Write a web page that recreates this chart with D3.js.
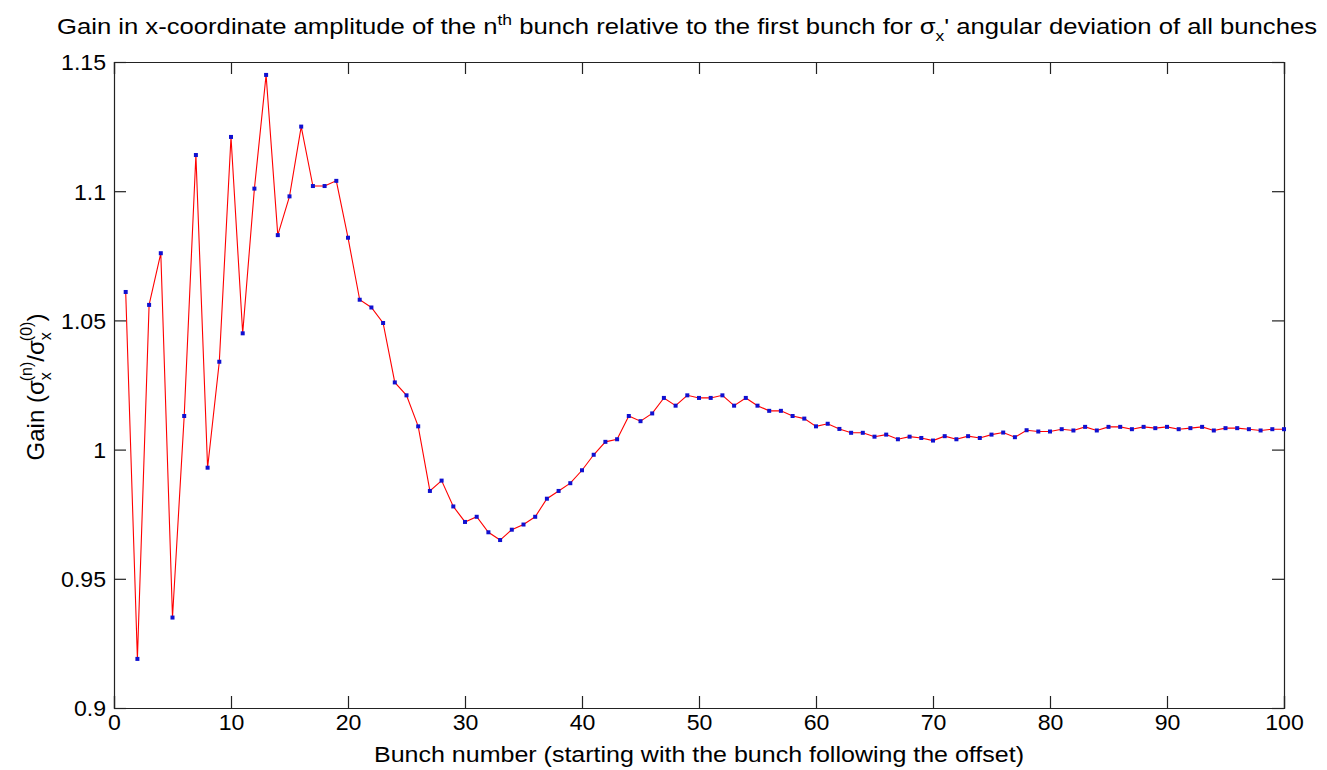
<!DOCTYPE html>
<html><head><meta charset="utf-8">
<script src="https://cdn.jsdelivr.net/npm/d3@7"></script>
<style>body{margin:0;background:#fff}svg{display:block}text{font-family:Arial,"Liberation Sans",sans-serif;fill:#000}</style>
</head><body><svg id="c" width="1327" height="770"></svg>
<script>
const gain = [1.061,0.919,1.056,1.076,0.935,1.013,1.114,0.993,1.034,1.121,
1.045,1.101,1.145,1.083,1.098,1.125,1.102,1.102,1.104,1.082,
1.058,1.055,1.049,1.026,1.021,1.009,0.984,0.988,0.978,0.972,
0.974,0.968,0.965,0.969,0.971,0.974,0.981,0.984,0.987,0.992,
0.998,1.003,1.004,1.013,1.011,1.014,1.020,1.017,1.021,1.020,
1.020,1.021,1.017,1.020,1.017,1.015,1.015,1.013,1.012,1.009,
1.010,1.008,1.0065,1.0065,1.005,1.0058,1.004,1.005,1.0045,1.0035,
1.0052,1.004,1.0052,1.0045,1.0058,1.0066,1.0048,1.0075,1.007,1.007,
1.0079,1.0074,1.0088,1.0074,1.0088,1.0088,1.0079,1.0088,1.0083,1.0088,
1.0079,1.0083,1.0088,1.0074,1.0083,1.0083,1.0079,1.0074,1.0079,1.0079];
const xTicks = [0,10,20,30,40,50,60,70,80,90,100];
const yTicks = [0.9,0.95,1,1.05,1.1,1.15];
const yTickLabels = ["0.9","0.95","1","1.05","1.1","1.15"];

const L=114,R=1284,T=62,B=708;
const svg=d3.select("#c");
const x=d3.scaleLinear().domain([0,100]).range([L,R]);
const y=d3.scaleLinear().domain([0.9,1.15]).range([B,T]);
const tl=12, fs=22;

function stretch(sel,k){sel.each(function(){const w=this.getComputedTextLength();this.setAttribute("textLength",w*k);this.setAttribute("lengthAdjust","spacingAndGlyphs");});}

// axes
const gB=svg.append("g").attr("transform",`translate(0,${B})`).call(d3.axisBottom(x).tickValues(xTicks).tickSize(-tl));
const gT=svg.append("g").attr("transform",`translate(0,${T})`).call(d3.axisTop(x).tickValues(xTicks).tickSize(-tl).tickFormat(""));
const gL=svg.append("g").attr("transform",`translate(${L},0)`).call(d3.axisLeft(y).tickValues(yTicks).tickSize(-tl).tickFormat((d,i)=>yTickLabels[i]));
const gR=svg.append("g").attr("transform",`translate(${R},0)`).call(d3.axisRight(y).tickValues(yTicks).tickSize(-tl).tickFormat(""));
[gB,gT,gL,gR].forEach(g=>{g.select(".domain").attr("stroke","#222").attr("stroke-width",1.2);g.selectAll(".tick line").attr("stroke","#222").attr("stroke-width",1.2);g.selectAll("text").attr("font-size",fs).attr("font-family","Arial, 'Liberation Sans', sans-serif").attr("fill","#000");});
gB.selectAll(".tick text").attr("y",0).attr("dy",0).attr("transform","translate(0,16)").attr("dominant-baseline","middle");
gL.selectAll(".tick text").attr("x",-8).attr("dy","0.36em");
stretch(gB.selectAll(".tick text"),1.05);
stretch(gL.selectAll(".tick text"),1.05);

// line and markers
const pts=gain.map((v,i)=>[i+1,v]);
svg.append("path").datum(pts).attr("fill","none").attr("stroke","#ff0000").attr("stroke-width",1.1)
 .attr("d",d3.line().x(d=>x(d[0])).y(d=>y(d[1])));
svg.append("g").selectAll("rect").data(pts).join("rect")
 .attr("x",d=>x(d[0])-2).attr("y",d=>y(d[1])-2).attr("width",4).attr("height",4).attr("fill","#1010d0");

// title
const title=svg.append("text").attr("x",57).attr("y",34).attr("font-size",fs);
title.append("tspan").text("Gain in x-coordinate amplitude of the n");
title.append("tspan").attr("dy",-9).attr("font-size",15).text("th");
title.append("tspan").attr("dy",9).text(" bunch relative to the first bunch for σ");
title.append("tspan").attr("dy",7).attr("font-size",15).text("x");
title.append("tspan").attr("dy",-7).text("' angular deviation of all bunches");
title.attr("textLength",1260).attr("lengthAdjust","spacingAndGlyphs");

// x label
svg.append("text").attr("x",(L+R)/2).attr("y",762).attr("text-anchor","middle").attr("font-size",fs)
 .attr("textLength",650).attr("lengthAdjust","spacingAndGlyphs")
 .text("Bunch number (starting with the bunch following the offset)");

// y label
const yl=svg.append("text").attr("transform","translate(44,387) rotate(-90)").attr("text-anchor","middle").attr("font-size",24);
yl.append("tspan").text("Gain (σ");
yl.append("tspan").attr("dy",7).attr("font-size",16).text("x");
yl.append("tspan").attr("dx",-9).attr("dy",-19).attr("font-size",16).text("(n)");
yl.append("tspan").attr("dy",12).text("/σ");
yl.append("tspan").attr("dy",7).attr("font-size",16).text("x");
yl.append("tspan").attr("dx",-9).attr("dy",-19).attr("font-size",16).text("(0)");
yl.append("tspan").attr("dy",12).text(")");
</script></body></html>
